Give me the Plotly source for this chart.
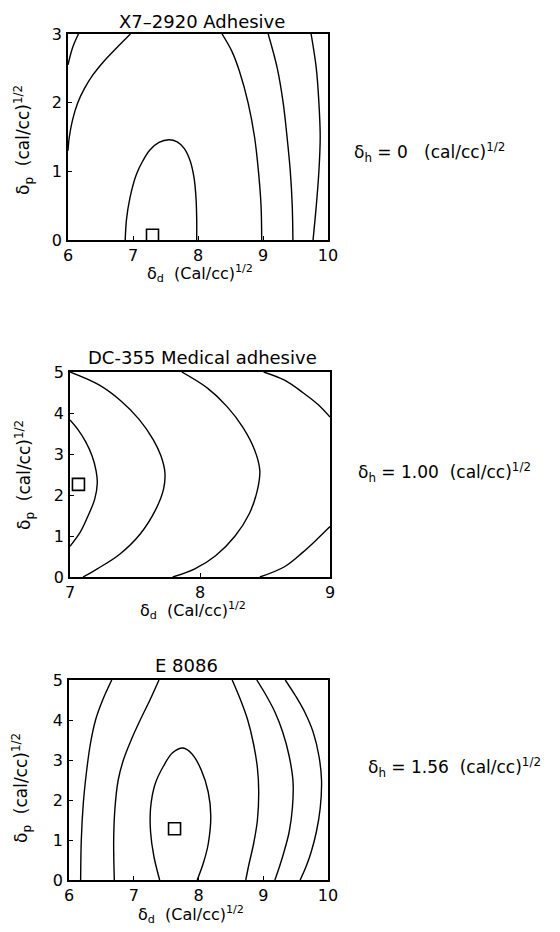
import plotly.graph_objects as go

W, H = 560, 932
OFFSET = 8  # page body margin in the browser

# ---------------- data ----------------
# Panel 1: X7-2920 Adhesive (delta_h = 0)
p1_title = "X7–2920 Adhesive"
p1_xticks = [6, 7, 8, 9, 10]
p1_yticks = [0, 1, 2, 3]
p1_c1_x = [6.0, 6.07, 6.16]
p1_c1_y = [2.55, 2.8, 3.0]
p1_c2_x = [6.0, 6.02, 6.07, 6.15, 6.25, 6.38, 6.55, 6.75, 6.96]
p1_c2_y = [1.30, 1.5, 1.75, 2.0, 2.2, 2.4, 2.6, 2.8, 3.0]
p1_c3_x = [8.37, 8.52, 8.64, 8.77, 8.87, 8.93, 8.97, 8.98]
p1_c3_y = [3.0, 2.75, 2.45, 2.0, 1.5, 1.0, 0.5, 0.0]
p1_c4_x = [6.88, 6.90, 6.95, 7.05, 7.15, 7.26, 7.40, 7.55, 7.68, 7.79, 7.88, 7.94, 7.97, 7.98, 7.98]
p1_c4_y = [0.0, 0.3, 0.6, 0.95, 1.15, 1.31, 1.42, 1.46, 1.43, 1.33, 1.15, 0.9, 0.6, 0.3, 0.0]
p1_c5_x = [9.08, 9.22, 9.31, 9.37, 9.42, 9.45, 9.46]
p1_c5_y = [3.0, 2.5, 2.0, 1.5, 1.0, 0.5, 0.0]
p1_c6_x = [9.74, 9.82, 9.86, 9.88, 9.86, 9.82, 9.77]
p1_c6_y = [3.0, 2.5, 2.0, 1.5, 1.0, 0.5, 0.0]
p1_opt_x = [7.30]
p1_opt_y = [0.07]
p1_label = "δ<sub>h</sub> = 0   (cal/cc)<sup>1/2</sup>"

# Panel 2: DC-355 Medical adhesive (delta_h = 1.00)
p2_title = "DC-355 Medical adhesive"
p2_xticks = [7, 8, 9]
p2_yticks = [0, 1, 2, 3, 4, 5]
p2_c1_x = [7.0, 7.06, 7.12, 7.17, 7.20, 7.21, 7.19, 7.14, 7.08, 7.0]
p2_c1_y = [3.83, 3.6, 3.3, 2.95, 2.6, 2.3, 1.9, 1.5, 1.1, 0.75]
p2_c2_x = [7.0, 7.22, 7.39, 7.53, 7.64, 7.70, 7.73, 7.72, 7.66, 7.54, 7.38, 7.21, 7.10]
p2_c2_y = [5.0, 4.69, 4.3, 3.85, 3.35, 2.95, 2.55, 2.15, 1.65, 1.05, 0.55, 0.2, 0.0]
p2_c3_x = [7.86, 8.06, 8.21, 8.33, 8.42, 8.46, 8.44, 8.38, 8.27, 8.12, 7.96, 7.79]
p2_c3_y = [5.0, 4.6, 4.15, 3.65, 3.1, 2.6, 2.1, 1.55, 1.0, 0.52, 0.2, 0.0]
p2_c4_x = [8.49, 8.65, 8.79, 8.91, 9.0]
p2_c4_y = [5.0, 4.8, 4.5, 4.2, 3.9]
p2_c5_x = [8.46, 8.65, 8.79, 8.91, 9.0]
p2_c5_y = [0.0, 0.25, 0.6, 0.95, 1.23]
p2_opt_x = [7.065]
p2_opt_y = [2.26]
p2_label = "δ<sub>h</sub> = 1.00  (cal/cc)<sup>1/2</sup>"

# Panel 3: E 8086 (delta_h = 1.56)
p3_title = "E 8086"
p3_xticks = [6, 7, 8, 9, 10]
p3_yticks = [0, 1, 2, 3, 4, 5]
p3_c1_x = [6.66, 6.52, 6.41, 6.33, 6.27, 6.22, 6.19, 6.18]
p3_c1_y = [5.0, 4.5, 4.0, 3.4, 2.7, 1.9, 1.0, 0.0]
p3_c2_x = [7.39, 7.25, 7.10, 6.96, 6.84, 6.76, 6.71, 6.69, 6.70]
p3_c2_y = [5.0, 4.5, 4.0, 3.5, 3.0, 2.5, 1.8, 1.0, 0.0]
p3_c3_x = [7.40, 7.31, 7.26, 7.26, 7.33, 7.46, 7.60, 7.76, 7.90, 8.04, 8.15, 8.19, 8.15, 8.08, 7.98]
p3_c3_y = [0.0, 0.6, 1.2, 1.8, 2.4, 2.85, 3.18, 3.30, 3.15, 2.76, 2.2, 1.6, 0.9, 0.45, 0.0]
p3_c4_x = [8.52, 8.65, 8.76, 8.85, 8.91, 8.93, 8.91, 8.85, 8.78, 8.73]
p3_c4_y = [5.0, 4.5, 4.0, 3.4, 2.8, 2.2, 1.5, 0.9, 0.4, 0.0]
p3_c5_x = [8.90, 9.05, 9.18, 9.30, 9.40, 9.46, 9.45, 9.40, 9.32, 9.25, 9.18]
p3_c5_y = [5.0, 4.6, 4.2, 3.7, 3.1, 2.45, 1.8, 1.2, 0.7, 0.33, 0.0]
p3_c6_x = [9.34, 9.50, 9.64, 9.77, 9.86, 9.90, 9.88, 9.82, 9.74, 9.66, 9.57]
p3_c6_y = [5.0, 4.6, 4.2, 3.7, 3.1, 2.5, 1.8, 1.2, 0.7, 0.33, 0.0]
p3_opt_x = [7.63]
p3_opt_y = [1.28]
p3_label = "δ<sub>h</sub> = 1.56  (cal/cc)<sup>1/2</sup>"

x_title = "δ<sub>d</sub>  (Cal/cc)<sup>1/2</sup>"
y_title = "δ<sub>p</sub>  (cal/cc)<sup>1/2</sup>"

# ---------------- figure ----------------
FONT = "DejaVu Sans"
fig = go.Figure()

panels = [
    dict(curves=[(p1_c1_x, p1_c1_y), (p1_c2_x, p1_c2_y), (p1_c3_x, p1_c3_y),
                 (p1_c4_x, p1_c4_y), (p1_c5_x, p1_c5_y), (p1_c6_x, p1_c6_y)],
         opt=(p1_opt_x, p1_opt_y), xr=[6, 10], yr=[0, 3],
         xt=p1_xticks, yt=p1_yticks, title=p1_title, label=p1_label,
         box=(68, 328, 34, 240), tpos=(202, 22), xtpos=(200, 273), ytpos=(24, 140),
         lpos=(352, 152)),
    dict(curves=[(p2_c1_x, p2_c1_y), (p2_c2_x, p2_c2_y), (p2_c3_x, p2_c3_y),
                 (p2_c4_x, p2_c4_y), (p2_c5_x, p2_c5_y)],
         opt=(p2_opt_x, p2_opt_y), xr=[7, 9], yr=[0, 5],
         xt=p2_xticks, yt=p2_yticks, title=p2_title, label=p2_label,
         box=(70, 330, 372, 577), tpos=(202, 358), xtpos=(193, 610), ytpos=(25, 475),
         lpos=(356, 472)),
    dict(curves=[(p3_c1_x, p3_c1_y), (p3_c2_x, p3_c2_y), (p3_c3_x, p3_c3_y),
                 (p3_c4_x, p3_c4_y), (p3_c5_x, p3_c5_y), (p3_c6_x, p3_c6_y)],
         opt=(p3_opt_x, p3_opt_y), xr=[6, 10], yr=[0, 5],
         xt=p3_xticks, yt=p3_yticks, title=p3_title, label=p3_label,
         box=(69, 328, 680, 880), tpos=(186, 665), xtpos=(191, 914), ytpos=(21, 788),
         lpos=(366, 767)),
]

def fx(px):
    return (px - OFFSET) / W

def fy(py):
    return 1 - (py - OFFSET) / H

annotations = []
for i, p in enumerate(panels, start=1):
    xa = "x" if i == 1 else f"x{i}"
    ya = "y" if i == 1 else f"y{i}"
    for cx, cy in p["curves"]:
        fig.add_trace(go.Scatter(x=cx, y=cy, mode="lines", xaxis=xa, yaxis=ya,
                                 line=dict(color="black", width=1.4, shape="spline", smoothing=1.0),
                                 showlegend=False, hoverinfo="skip"))
    fig.add_trace(go.Scatter(x=p["opt"][0], y=p["opt"][1], mode="markers", xaxis=xa, yaxis=ya,
                             marker=dict(symbol="square-open", size=12, color="black",
                                         line=dict(width=1.6, color="black")),
                             showlegend=False, cliponaxis=False))
    l, r, t, b = p["box"]
    axcommon = dict(showline=True, mirror=True, linecolor="black", linewidth=1.6,
                    ticks="inside", ticklen=4, tickwidth=1.2, tickcolor="black",
                    showgrid=False, zeroline=False, automargin=False,
                    tickfont=dict(family=FONT, size=16, color="black"))
    fig.layout[f"xaxis{'' if i == 1 else i}"] = dict(
        domain=[fx(l), fx(r)], range=p["xr"], tickvals=p["xt"], anchor=ya, **axcommon)
    fig.layout[f"yaxis{'' if i == 1 else i}"] = dict(
        domain=[fy(b), fy(t)], range=p["yr"], tickvals=p["yt"], anchor=xa,
        ticklabelstandoff=1, **axcommon)
    annotations.append(dict(text=p["title"], x=fx(p["tpos"][0]), y=fy(p["tpos"][1]),
                            xref="paper", yref="paper", showarrow=False,
                            xanchor="center", yanchor="middle",
                            font=dict(family=FONT, size=18, color="black")))
    annotations.append(dict(text=x_title, x=fx(p["xtpos"][0]), y=fy(p["xtpos"][1]),
                            xref="paper", yref="paper", showarrow=False,
                            xanchor="center", yanchor="middle",
                            font=dict(family=FONT, size=16, color="black")))
    annotations.append(dict(text=y_title, x=fx(p["ytpos"][0]), y=fy(p["ytpos"][1]),
                            xref="paper", yref="paper", showarrow=False, textangle=-90,
                            xanchor="center", yanchor="middle",
                            font=dict(family=FONT, size=17, color="black")))
    annotations.append(dict(text=p["label"], x=fx(p["lpos"][0]), y=fy(p["lpos"][1]),
                            xref="paper", yref="paper", showarrow=False,
                            xanchor="left", yanchor="middle",
                            font=dict(family=FONT, size=17, color="black")))

fig.update_layout(width=W, height=H,
                  margin=dict(l=0, r=0, t=0, b=0, pad=0, autoexpand=False),
                  paper_bgcolor="white", plot_bgcolor="white",
                  annotations=annotations, showlegend=False)

fig.write_html("out.html")
